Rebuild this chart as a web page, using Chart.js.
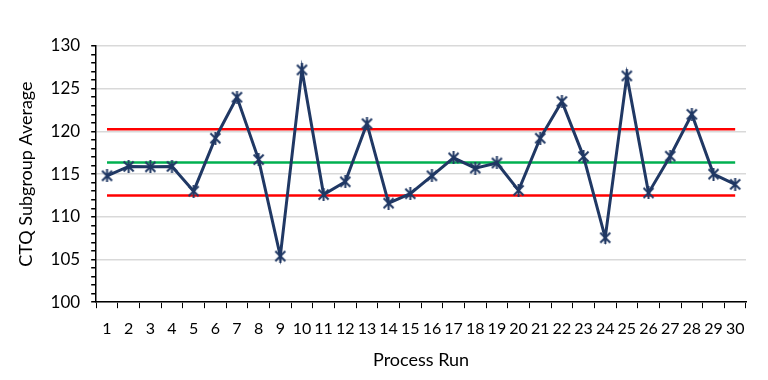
<!DOCTYPE html>
<html>
<head>
<meta charset="utf-8">
<script src="https://cdn.jsdelivr.net/npm/chart.js@4.4.1/dist/chart.umd.min.js"></script>
<style>
  html, body { margin: 0; padding: 0; background: #fff; }
  #wrap { width: 768px; height: 380px; position: relative; }
</style>
</head>
<body>
<div id="wrap"><canvas id="chart"></canvas></div>
<script>
// ==================== DATA ====================
const runs = ['1','2','3','4','5','6','7','8','9','10','11','12','13','14','15','16','17','18','19','20','21','22','23','24','25','26','27','28','29','30'];
const subgroupAverages = [114.8, 115.9, 115.85, 115.9, 113.0, 119.2, 124.0, 116.7, 105.4, 127.2,
                          112.6, 114.1, 120.9, 111.6, 112.7, 114.8, 116.9, 115.7, 116.3, 113.1,
                          119.2, 123.5, 117.05, 107.55, 126.5, 112.8, 117.1, 122.0, 115.0, 113.8];
const ucl = 120.24;
const centerLine = 116.37;
const lcl = 112.5;
const yMin = 100;
const yMax = 130;

// ==================== MARKER (Excel-style star) ====================
function makeStar(size, color) {
    const c = document.createElement('canvas');
    c.width = size; c.height = size;
    const g = c.getContext('2d');
    g.strokeStyle = color;
    g.lineWidth = 2;
    const p = 1.5;
    g.beginPath();
    g.moveTo(p, p); g.lineTo(size - p, size - p);
    g.moveTo(size - p, p); g.lineTo(p, size - p);
    g.moveTo(size / 2, 0); g.lineTo(size / 2, size);
    g.stroke();
    return c;
}
const navy = '#203864';
const starMarker = makeStar(13, navy);

const font = 'Lato, "Open Sans", "DejaVu Sans", sans-serif';

// ==================== CHART ====================
new Chart(document.getElementById('chart'), {
    type: 'line',
    data: {
        labels: runs,
        datasets: [
            {
                label: 'CTQ Subgroup Average',
                data: subgroupAverages,
                borderColor: navy,
                borderWidth: 3,
                pointStyle: starMarker,
                pointRadius: 6,
                tension: 0,
                order: 0
            },
            {
                label: 'UCL',
                data: runs.map(() => ucl),
                borderColor: '#ff0000',
                borderWidth: 2.5,
                pointRadius: 0,
                order: 1
            },
            {
                label: 'CL',
                data: runs.map(() => centerLine),
                borderColor: '#00b050',
                borderWidth: 2.5,
                pointRadius: 0,
                order: 1
            },
            {
                label: 'LCL',
                data: runs.map(() => lcl),
                borderColor: '#ff0000',
                borderWidth: 2.5,
                pointRadius: 0,
                order: 1
            }
        ]
    },
    options: {
        responsive: true,
        maintainAspectRatio: false,
        animation: false,
        layout: { padding: { left: 15, right: 22, top: 46, bottom: 9 } },
        plugins: { legend: { display: false }, tooltip: { enabled: false } },
        scales: {
            x: {
                type: 'category',
                offset: true,
                grid: {
                    offset: true,
                    drawOnChartArea: false,
                    tickLength: 6,
                    tickColor: '#000'
                },
                border: { color: '#000', width: 1.5 },
                ticks: {
                    autoSkip: false,
                    maxRotation: 0,
                    padding: 11,
                    color: '#000',
                    font: { family: font, size: 16 }
                },
                title: {
                    display: true,
                    text: 'Process Run',
                    color: '#000',
                    padding: { top: 0, bottom: 0 },
                    font: { family: font, size: 18 }
                }
            },
            y: {
                min: yMin,
                max: yMax,
                grid: {
                    color: ctx => (ctx.tick && ctx.tick.value % 5 === 0) ? '#d9d9d9' : 'rgba(0,0,0,0)',
                    lineWidth: 1.5,
                    tickColor: '#000',
                    tickLength: 5
                },
                border: { color: '#000', width: 1.5 },
                ticks: {
                    stepSize: 1,
                    autoSkip: false,
                    padding: 11,
                    color: '#000',
                    font: { family: font, size: 17 },
                    callback: v => (v % 5 === 0 ? v : '')
                },
                title: {
                    display: true,
                    text: 'CTQ Subgroup Average',
                    color: '#000',
                    padding: { top: 0, bottom: 3 },
                    font: { family: font, size: 18 }
                }
            }
        }
    }
});
</script>
</body>
</html>
